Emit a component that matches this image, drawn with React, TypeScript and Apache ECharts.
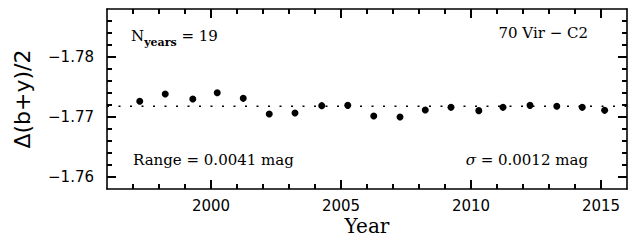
import React, { useEffect, useRef } from "react";
import * as echarts from "echarts";

const years = [1997.26, 1998.24, 1999.3, 2000.24, 2001.24, 2002.24, 2003.23, 2004.26, 2005.26, 2006.26, 2007.27, 2008.24, 2009.23, 2010.3, 2011.23, 2012.27, 2013.3, 2014.28, 2015.14];
const values = [-1.77262, -1.77383, -1.773, -1.77405, -1.77311, -1.7705, -1.77067, -1.77189, -1.77194, -1.77017, -1.77, -1.77117, -1.77161, -1.77106, -1.77161, -1.77194, -1.77178, -1.77161, -1.77111];
const xMajorTicks = [2000, 2005, 2010, 2015];
const yMajorTicks = [-1.78, -1.77, -1.76];
const xRange = [1996, 2016];
const yRange = [-1.788, -1.758];
const yMinorStep = 0.002;
const xMinorStep = 1;

const SANS = "DejaVu Sans";
const SERIF = "DejaVu Serif";
const MAJOR_LEN = 9;
const MINOR_LEN = 5;

const isMajor = (list: number[], v: number, tol: number) => list.some((m) => Math.abs(m - v) < tol);

export default function App() {
  const ref = useRef<HTMLDivElement>(null);
  useEffect(() => {
    if (!ref.current) return;
    const chart = echarts.init(ref.current, null, { renderer: "svg" });
    const mean = values.reduce((a, b) => a + b, 0) / values.length;
    const pts = years.map((y, i) => [y, values[i]]);
    const axisLine = { show: true, lineStyle: { color: "#000", width: 1.6 } };
    const fmtY = (v: number) => (v < 0 ? "\u2212" : "") + Math.abs(v).toFixed(2);
    const fmtX = (v: number) => String(Math.round(v));

    const xTicks: number[][] = [];
    const nx = Math.round((xRange[1] - xRange[0]) / xMinorStep);
    for (let i = 1; i < nx; i++) xTicks.push([xRange[0] + i * xMinorStep, yRange[0]]);
    const yTicks: number[][] = [];
    const ny = Math.round((yRange[1] - yRange[0]) / yMinorStep);
    for (let i = 1; i < ny; i++) yTicks.push([xRange[0], yRange[0] + i * yMinorStep]);
    const tickStyle = { stroke: "#000", lineWidth: 2 };
    const majorTick = (vals: number[]) => ({
      show: true, inside: true, length: MAJOR_LEN, customValues: vals, lineStyle: { color: "#000", width: 2 },
    });

    chart.setOption({
      animation: false,
      grid: { left: 107, right: 7, top: 9, bottom: 54 },
      xAxis: [
        {
          type: "value", position: "bottom", min: xRange[0], max: xRange[1], splitLine: { show: false },
          axisLine, axisTick: majorTick(xMajorTicks),
          axisLabel: { show: true, customValues: xMajorTicks, margin: 9, color: "#000", fontFamily: SANS, fontSize: 15, formatter: fmtX },
        },
        {
          type: "value", position: "top", min: xRange[0], max: xRange[1], splitLine: { show: false },
          axisLine, axisTick: majorTick(xMajorTicks), axisLabel: { show: false },
        },
      ],
      yAxis: [
        {
          type: "value", position: "left", min: yRange[0], max: yRange[1], inverse: true, splitLine: { show: false },
          axisLine, axisTick: majorTick(yMajorTicks),
          axisLabel: { show: true, customValues: yMajorTicks, margin: 13, color: "#000", fontFamily: SANS, fontSize: 15, formatter: fmtY },
        },
        {
          type: "value", position: "right", min: yRange[0], max: yRange[1], inverse: true, splitLine: { show: false },
          axisLine, axisTick: majorTick(yMajorTicks), axisLabel: { show: false },
        },
      ],
      series: [
        {
          type: "custom",
          xAxisIndex: 0,
          yAxisIndex: 0,
          silent: true,
          clip: false,
          z: 5,
          data: xTicks,
          renderItem: (_p: any, api: any) => {
            const x = api.value(0);
            const len = isMajor(xMajorTicks, x, 1e-6) ? MAJOR_LEN : MINOR_LEN;
            const top = api.coord([x, yRange[0]]);
            const bot = api.coord([x, yRange[1]]);
            return {
              type: "group",
              children: [
                { type: "line", shape: { x1: bot[0], y1: bot[1], x2: bot[0], y2: bot[1] - len }, style: tickStyle },
                { type: "line", shape: { x1: top[0], y1: top[1], x2: top[0], y2: top[1] + len }, style: tickStyle },
              ],
            };
          },
        },
        {
          type: "custom",
          xAxisIndex: 0,
          yAxisIndex: 0,
          silent: true,
          clip: false,
          z: 5,
          data: yTicks,
          renderItem: (_p: any, api: any) => {
            const y = api.value(1);
            const len = isMajor(yMajorTicks, y, 1e-7) ? MAJOR_LEN : MINOR_LEN;
            const l = api.coord([xRange[0], y]);
            const r = api.coord([xRange[1], y]);
            return {
              type: "group",
              children: [
                { type: "line", shape: { x1: l[0], y1: l[1], x2: l[0] + len, y2: l[1] }, style: tickStyle },
                { type: "line", shape: { x1: r[0], y1: r[1], x2: r[0] - len, y2: r[1] }, style: tickStyle },
              ],
            };
          },
        },
        {
          type: "line",
          xAxisIndex: 0,
          yAxisIndex: 0,
          data: [[xRange[0], mean], [xRange[1], mean]],
          symbol: "none",
          silent: true,
          lineStyle: { color: "#000", width: 1.5, type: [2, 9.5] },
        },
        {
          type: "scatter",
          xAxisIndex: 0,
          yAxisIndex: 0,
          data: pts,
          symbol: "circle",
          symbolSize: 7,
          itemStyle: { color: "#000", opacity: 1 },
        },
      ],
      graphic: [
        {
          type: "text", x: 22, y: 99, rotation: Math.PI / 2,
          style: { text: "\u0394(b+y)/2", fontFamily: SANS, fontSize: 22, fill: "#000", align: "center", verticalAlign: "middle" },
        },
        {
          type: "text", x: 367, y: 226,
          style: { text: "Year", fontFamily: SERIF, fontSize: 20, fill: "#000", align: "center", verticalAlign: "middle" },
        },
        {
          type: "text", x: 131, y: 36,
          style: {
            text: "{n|N}{s|years}{n| = 19}",
            align: "left", verticalAlign: "middle", fill: "#000",
            rich: {
              n: { fontFamily: SERIF, fontSize: 15, fill: "#000" },
              s: { fontFamily: SERIF, fontSize: 11, fontWeight: "bold", fill: "#000", padding: [12, 0, 0, 0] },
            },
          },
        },
        {
          type: "text", x: 588, y: 33,
          style: { text: "70 Vir \u2212 C2", fontFamily: SERIF, fontSize: 15, fill: "#000", align: "right", verticalAlign: "middle" },
        },
        {
          type: "text", x: 133, y: 160,
          style: { text: "Range = 0.0041 mag", fontFamily: SERIF, fontSize: 15, fill: "#000", align: "left", verticalAlign: "middle" },
        },
        {
          type: "text", x: 588, y: 160,
          style: {
            text: "{i|\u03c3}{n| = 0.0012 mag}",
            align: "right", verticalAlign: "middle", fill: "#000",
            rich: {
              i: { fontFamily: SERIF, fontSize: 15, fontStyle: "italic", fill: "#000" },
              n: { fontFamily: SERIF, fontSize: 15, fill: "#000" },
            },
          },
        },
      ],
    });
    return () => chart.dispose();
  }, []);
  return <div ref={ref} style={{ position: "absolute", left: 0, top: 0, width: 634, height: 243, background: "#fff" }} />;
}
